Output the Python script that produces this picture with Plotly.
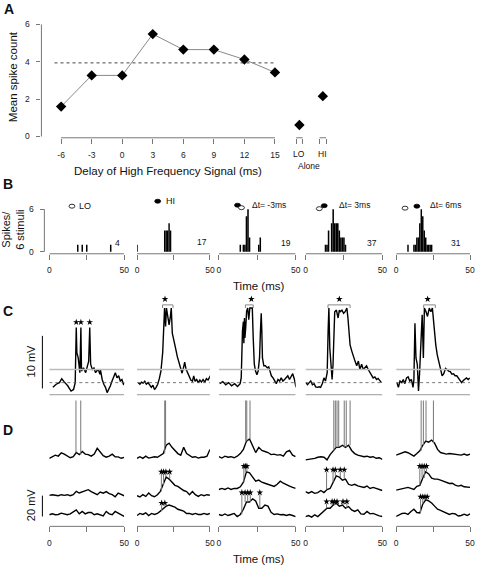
import plotly.graph_objects as go

W, H = 480, 572
FONT = "Arial, Liberation Sans, sans-serif"
AXC = "#777"

def fx(p):
    return p / W

def fy(p):
    return 1 - p / H

# ---------------- Panel A data ----------------
delays = [-6, -3, 0, 3, 6, 9, 12, 15]
mean_spikes = [1.6, 3.27, 3.27, 5.48, 4.65, 4.65, 4.12, 3.43]
alone_labels = ["LO", "HI"]
alone_x = [17.4, 19.7]
alone_spikes = [0.62, 2.16]
sum_level = 3.94
a_yticks = [0, 2, 4, 6]

# ---------------- Panel B data ----------------
hist_titles = ["LO", "HI", "\u0394t= -3ms", "\u0394t= 3ms", "\u0394t= 6ms"]
hist_totals = [4, 17, 19, 37, 31]
hist_bins = [
    [19, 22, 25, 41],
    [0, 19, 20, 21, 22, 23],
    [14, 16, 17, 18, 19, 20, 26, 27],
    [13, 14, 15, 17, 18, 19, 20, 21, 22, 23, 24, 25, 26],
    [8, 12, 13, 14, 15, 16, 17, 18, 19, 20, 21, 22, 23, 24],
]
hist_counts = [
    [1, 1, 1, 1],
    [1, 3, 3, 3, 4, 3],
    [1, 1, 1, 5, 6, 2, 1, 2],
    [1, 1, 3, 4, 6, 4, 4, 4, 3, 2, 2, 2, 1],
    [1, 1, 1, 2, 2, 4, 6, 5, 3, 2, 1, 1, 1, 1],
]
b_yticks = [0, 6]
time_ticks = [0, 25, 50]
time_ticktext = ["0", "", "50"]

# ---------------- Panel C data (ms, mV re. rest) ----------------
c_t = [
    [2.4, 4.6, 6.8, 8.3, 10.1, 12.3, 14.5, 16.2, 17.3, 17.8, 18.0, 18.4, 19.3, 20.4, 21.1, 21.5, 22.8, 24.3, 25.4, 26.3,
     27.0, 27.6, 28.7, 29.8, 30.9, 32.0, 33.1, 33.8, 34.2, 35.3, 36.4, 37.5, 38.6, 39.7, 40.8, 41.9, 43.0, 44.1, 45.2,
     46.3, 47.4, 48.5, 49.5, 50.7],
    [0.9, 2.0, 3.1, 4.2, 5.3, 6.4, 7.6, 8.7, 9.8, 10.9, 12.0, 13.1, 14.2, 15.3, 16.4, 17.6, 18.2, 18.9, 19.6, 20.2,
     21.1, 22.0, 22.9, 23.5, 24.2, 25.3, 26.4, 27.6, 28.7, 29.8, 30.9, 32.0, 32.7, 33.6, 34.7, 35.8, 36.9, 38.0, 38.9,
     39.8, 40.9, 42.0, 43.1, 44.2, 45.3, 46.4, 47.6, 48.7, 49.8, 50.9],
    [0.6, 2.6, 4.5, 6.4, 8.3, 10.3, 12.2, 12.8, 13.9, 14.6, 14.9, 15.4, 16.0, 16.3, 16.7, 17.0, 17.5, 18.1, 18.8, 19.5,
     20.2, 21.0, 21.8, 22.4, 23.1, 23.9, 24.8, 25.6, 26.5, 27.1, 27.6, 28.0, 28.4, 29.3, 30.3, 31.6, 32.5, 33.3, 34.2,
     35.3, 36.3, 37.4, 38.5, 39.6, 40.6, 41.7, 42.8, 43.8, 44.9, 46.0, 47.0, 48.1, 49.2, 50.2],
    [0.2, 1.3, 2.4, 3.4, 4.5, 5.6, 6.6, 7.7, 8.8, 9.8, 10.9, 12.0, 13.0, 14.1, 14.7, 15.2, 15.8, 16.7, 17.3, 17.9,
     18.4, 19.0, 20.1, 21.2, 22.0, 22.6, 23.7, 24.8, 25.8, 26.9, 27.6, 28.2, 29.0, 30.1, 31.2, 32.2, 33.3, 34.4, 35.4,
     36.5, 37.6, 38.7, 39.7, 40.8, 41.9, 42.9, 44.0, 45.1, 46.2, 47.2, 48.3, 49.4],
    [0.5, 1.5, 2.6, 3.8, 4.8, 5.9, 7.0, 8.1, 9.2, 10.3, 11.4, 12.0, 12.7, 13.4, 14.3, 15.1, 15.8, 16.4, 16.9, 17.6,
     18.4, 19.1, 20.2, 21.2, 22.4, 23.5, 24.5, 25.7, 26.8, 27.8, 28.9, 30.1, 31.1, 32.2, 33.4, 34.4, 35.5, 36.6, 37.7,
     38.8, 39.9, 41.0, 42.1, 43.2, 44.3, 45.4, 46.5, 47.6, 48.7, 49.8],
]
c_v = [
    [-0.9, -0.3, 0.0, 0.75, 0.1, -0.6, -1.6, -1.3, 0.0, 5.0, 10.5, 5.7, 4.7, 1.9, 10.5, 2.2, 2.8, 1.9, 3.1, 4.1,
     10.5, 3.5, 2.5, 2.8, 1.9, 2.4, 2.2, 1.6, 2.4, 0.6, -0.3, -0.9, -1.9, -1.3, -0.6, 0.3, 1.3, 1.9, 0.9, 1.3,
     0.3, 0.6, -0.3, 0.0],
    [0.0, -0.3, 0.1, -0.1, 0.25, -0.3, 0.0, -0.6, -0.9, -0.5, -1.3, -0.9, -0.3, 0.75, 2.2, 5.7, 9.4, 14.2, 10.7, 14.2,
     12.6, 11.0, 12.6, 14.2, 9.4, 8.2, 6.6, 5.0, 3.8, 2.6, 1.8, 3.0, 3.9, 2.6, 1.8, 0.94, 0.5, 0.3, 1.3, 0.25,
     0.6, 0.0, 0.5, 0.1, 0.6, 0.1, 0.75, 0.5, 0.94, 1.6],
    [-0.2, 0.2, -0.4, 0.0, -0.6, -0.2, -0.75, -0.6, -0.2, 0.94, 4.7, 9.8, 11.6, 7.5, 12.3, 8.5, 10.4, 13.6, 14.2, 12.0,
     14.2, 14.2, 14.2, 8.5, 3.5, 2.2, 1.5, 2.2, 4.7, 9.8, 13.2, 9.8, 4.7, 3.2, 3.2, 2.8, 3.0, 2.2, 1.3, 0.9,
     0.4, -0.2, 0.6, 0.3, 0.9, 0.3, 0.6, 0.9, 1.3, 0.6, 1.1, 1.7, 0.6, -0.9],
    [0.0, -0.4, 0.0, 0.3, -0.4, -0.2, -0.8, -0.9, -0.8, -0.9, -0.2, 0.9, 0.3, 1.9, 9.8, 14.2, 6.6, 1.6, 0.6, 3.5,
     9.8, 13.5, 13.8, 12.3, 13.8, 13.5, 13.8, 13.2, 13.5, 14.2, 12.3, 9.8, 7.2, 6.0, 4.7, 4.1, 3.2, 4.1, 2.5, 3.5,
     2.5, 2.8, 3.2, 2.5, 1.9, 1.5, 0.9, 1.1, 0.6, 0.8, 0.3, 0.0],
    [0.0, -0.9, 0.3, 0.0, 0.6, -0.2, 0.9, 1.1, 0.3, 0.6, -0.9, 0.6, 11.3, 4.7, 3.5, -1.6, 1.6, 6.0, 9.8, 12.9,
     4.7, 14.2, 13.5, 12.6, 14.2, 13.5, 14.2, 9.8, 7.2, 5.3, 3.8, 2.5, 1.3, 1.7, 2.7, 2.5, 2.2, 2.1, 1.6, 1.7,
     1.3, 1.3, 0.9, 0.3, 0.0, 0.4, 0.6, 0.9, 0.6, 0.9],
]
c_star_t = [[18.0, 21.1, 27.0], [19.2], [21.2], [22.0], [21.3]]
c_star_v = [11.5, 15.9, 15.9, 15.9, 15.9]
c_bracket = [None, (17.5, 24.7), (17.3, 22.4), (14.6, 29.0), (18.6, 26.5)]
c_bracket_v = 14.8
c_upper, c_rest, c_lower = 2.5, 0.0, -2.3
c_scale_mv = 10

# ---------------- Panel D data (ms, mV re. rest of each trial) ----------------
d_t = list(range(0, 51, 2))
d_offsets = [54.5, 19.0, 0.0]  # top, middle, bottom trial
d_v = [
    [[-0.6, 1, 2.5, 1.6, 4.8, 3.5, 1.6, 0, 1, 5, 3, 6, 3.5, 3, 1.6, 3.5, 9, 5, 2, 0.5, 1.6, 3.5, 1, 0.8, -0.5, 0.3],
     [-0.6, 0, -0.5, -1, 0, -0.6, 0, -1, 0, 3.2, 1.6, 2.5, 3.2, 4.8, 3, 1.6, 0, 2.5, 1.5, 3, 1, 0, -2, 1.5, 0, -1],
     [-0.3, 0.6, -0.3, 0, 1.3, 0.6, -0.3, 0.6, 2.9, 4.4, 0.6, 2.9, 0.6, 1.9, 1.9, -0.3, 0.6, -0.3, -1.3, 2.9, 0.6, -0.3, 2.9, 1.3, -0.3, -1.9]],
    [[-0.6, 1, -0.6, 1.5, -0.3, 0.5, 1, 0.5, 2.5, 4, 12, 14, 10, 7, 4, 2.5, 10, 4, 2.5, 0.5, 1, -0.3, 0.5, 0.5, 1.5, 8],
     [-1, -2.2, 0, -1.6, 1.6, -1, -2, 0, 3.2, 9.5, 17, 15, 12, 9, 8, 6, 4, 3, 0, 3, 0, -1.6, 0, -1, 0, -0.6],
     [-1, 1, 0, 1.6, -1, 1, 0, 1, 3.2, 6, 8, 9, 8, 7, 5, 4, 3.2, 1, 1, 0, 1, 0, 0, 1, 0, 1]],
    [[1, -0.3, 1.5, 0.5, 1, 0, 1.5, 4, 8, 16, 18, 12, 5, 10, 7, 6, 5, 3, 3.5, 2.5, 3, 1.5, 5.7, 7, 2.5, 1],
     [5, 6, 5, 6.5, 5, 6, 6, 7.6, 12, 22, 21, 17, 13, 14, 12, 11, 10, 9.2, 8, 10, 13, 11, 10, 8.3, 7, 6],
     [0, -1, 0.5, -1, 0, 1, -2, 0, 5, 12, 12, 15, 13, 6, 6, 9, 8, 2, 0, 0.6, -0.3, 0, -1, 0, -1, -2]],
    [[-2, -1.6, -1, -0.6, 0.5, 1, 0.5, -2, 3, 7, 10, 10, 12, 10, 12, 7, 4, 2.5, 1.5, 1, 1.5, 0.5, 1, -0.5, 0, -1.6],
     [3, 1.5, 3, 1.3, 2, 4, 2, 5, 6, 12, 18, 17, 14, 15, 10, 9, 10, 8.5, 8, 7, 8.3, 6, 7, 6, 5, 4],
     [-2, -1, -2.5, -0.3, -2, 0.6, 2.9, 6, 6, 9, 10.8, 8, 9, 6, 7.6, 4.4, 3, 4.4, 0.6, 0.3, 2.9, 0.6, 1, -0.3, -1.3, -1.9]],
    [[2.5, 3.5, 4, 5.7, 4.8, 3, 1.6, 4, 6.7, 12, 16, 15, 17, 14, 8, 5, 4.5, 3.5, 4, 3.5, 3, 2.5, 2.5, 3.5, 2.5, 3.5],
     [4.4, 5, 5.5, 6, 7, 6, 5, 8, 9, 16, 22, 20, 16, 15, 15, 14, 13, 11.5, 10.8, 11, 9.2, 8.3, 9, 7.6, 7.6, 7],
     [-1.9, -0.3, 1, 1.3, 0, 2.9, 5, 1.9, 1.5, 10, 14, 13, 11, 8, 5, 4, 2.9, 1.3, 0, 1, 0.5, -1.5, -1, 0.3, -1, 0.6]],
]
d_top_spikes = [[17.8, 21.0], [19.0, 19.6], [17.5, 18.2, 20.3],
                [18.4, 19.4, 20.5, 21.6, 25.2, 26.5, 29.0], [16.9, 18.4, 20.2, 25.2]]
d_top_peak = 55
d_mid_stars = [[], [16.7, 18.2, 19.8, 22.4], [16.3, 17.3, 18.3], [13.7, 17.9, 19.4, 22.6, 25.2], [16.0, 17.5, 19.0, 20.5]]
d_mid_star_v = [0, 22, 27.4, 24, 27.4]
d_bot_stars = [[], [16.9, 19.1], [15.0, 17.1, 18.8, 20.5, 26.7], [13.7, 17.3, 18.8, 20.5, 24.4, 26.9], [16.5, 18.0, 19.5, 21.0]]
d_bot_star_v = [0, 11, 21, 12.4, 17]
d_scale_mv = 20

# ---------------- layout geometry (pixels) ----------------
col_px = [(48, 124), (137, 211), (220, 298), (308, 386), (400, 475)]
total_px = [(117, 244), (203, 243), (288, 244), (375, 244), (461, 244)]

fig = go.Figure()
layout = dict(width=W, height=H, margin=dict(l=0, r=0, t=0, b=0), paper_bgcolor="white",
              plot_bgcolor="rgba(0,0,0,0)", showlegend=False, hovermode=False, dragmode=False,
              font=dict(family=FONT, size=8, color="#222"))
shapes = []
annotations = []


def ann(text, x, y, size=8, bold=False, angle=0, xanchor="center", yanchor="middle", xref="paper", yref="paper"):
    if bold:
        text = "<b>" + text + "</b>"
    annotations.append(dict(text=text, x=x, y=y, xref=xref, yref=yref, showarrow=False,
                            font=dict(size=size, family=FONT, color="#111"), textangle=angle,
                            xanchor=xanchor, yanchor=yanchor))


def axkey(kind, i):
    return kind + "axis" + ("" if i == 1 else str(i))


def ref(kind, i):
    return kind + ("" if i == 1 else str(i))


hidden = dict(visible=False, showgrid=False, zeroline=False)

# ---------------- Panel A ----------------
a_k = 217 / 21.0
lo_hi_ticks = []
for xv in alone_x:
    lo_hi_ticks += [xv - 0.32, xv + 0.32]
layout["xaxis"] = dict(domain=[fx(40), fx(340)], range=[-6 - 20 / a_k, -6 + 280 / a_k], anchor="y",
                       showgrid=False, zeroline=False, showline=False, ticks="outside", ticklen=5,
                       tickcolor=AXC, tickvals=delays + lo_hi_ticks,
                       ticktext=[str(d) for d in delays] + [""] * len(lo_hi_ticks),
                       tickfont=dict(size=8.5, color="#222"), ticklabelstandoff=4)
layout["yaxis"] = dict(domain=[fy(138), fy(20)], range=[-1.3 / 18.85, 116.7 / 18.85], anchor="x",
                       showgrid=False, zeroline=False, showline=False, ticks="outside", ticklen=4,
                       tickcolor=AXC, tickvals=a_yticks, tickfont=dict(size=8.5, color="#222"),
                       ticklabelstandoff=5)
shapes.append(dict(type="line", xref="x", yref="y domain", x0=delays[0], x1=delays[-1], y0=0, y1=0,
                   line=dict(color=AXC, width=1)))
for j in range(len(alone_x)):
    shapes.append(dict(type="line", xref="x", yref="y domain", x0=lo_hi_ticks[2 * j], x1=lo_hi_ticks[2 * j + 1],
                       y0=0, y1=0, line=dict(color=AXC, width=1)))
    ann(alone_labels[j], alone_x[j], fy(154), size=8.5, xref="x")
shapes.append(dict(type="line", xref="x domain", yref="y", x0=0, x1=0, y0=a_yticks[0], y1=a_yticks[-1],
                   line=dict(color=AXC, width=1)))
fig.add_trace(go.Scatter(x=[delays[0] - 0.65, delays[-1]], y=[sum_level, sum_level], mode="lines",
                         line=dict(color="#444", width=1, dash="dot"), xaxis="x", yaxis="y"))
fig.add_trace(go.Scatter(x=delays, y=mean_spikes, mode="lines+markers", line=dict(color="#888", width=1),
                         marker=dict(symbol="diamond", size=8, color="black"), xaxis="x", yaxis="y"))
fig.add_trace(go.Scatter(x=alone_x, y=alone_spikes, mode="markers",
                         marker=dict(symbol="diamond", size=8, color="black"), xaxis="x", yaxis="y"))
ann("Mean spike count", fx(12), fy(76), size=11.5, angle=-90)
ann("Delay of High Frequency Signal (ms)", fx(168), fy(172), size=11.5)
ann("Alone", fx(312), fy(166), size=8.5)

# ---------------- Panel B ----------------
b_k = 43 / 6.0
for c in range(5):
    i = 2 + c
    x0, x1 = col_px[c]
    layout[axkey("x", i)] = dict(domain=[fx(x0), fx(x1)], range=[0, 50], anchor=ref("y", i),
                                 showgrid=False, zeroline=False, showline=False, ticks="outside",
                                 ticklen=5, tickcolor=AXC, tickvals=time_ticks, ticktext=time_ticktext,
                                 tickfont=dict(size=8.5, color="#222"), ticklabelstandoff=3)
    ydict = dict(domain=[fy(255), fy(205)], range=[-2 / b_k, 48 / b_k], showgrid=False, zeroline=False)
    if c == 0:
        ydict.update(anchor="free", position=fx(43), showline=False, ticks="outside", ticklen=4,
                     tickcolor=AXC, tickvals=b_yticks, tickfont=dict(size=8.5, color="#222"),
                     ticklabelstandoff=5)
        shapes.append(dict(type="line", xref="paper", yref=ref("y", i), x0=fx(43), x1=fx(43),
                           y0=b_yticks[0], y1=b_yticks[-1], line=dict(color=AXC, width=1)))
    else:
        ydict.update(anchor=ref("x", i), visible=False)
    layout[axkey("y", i)] = ydict
    shapes.append(dict(type="line", xref=ref("x", i), yref=ref("y", i) + " domain", x0=time_ticks[0],
                       x1=time_ticks[-1], y0=0, y1=0, line=dict(color=AXC, width=1)))
    fig.add_trace(go.Bar(x=hist_bins[c], y=hist_counts[c], width=1.0, marker=dict(color="black", line=dict(width=0)),
                         xaxis=ref("x", i), yaxis=ref("y", i)))
    ann(str(hist_totals[c]), fx(total_px[c][0]), fy(total_px[c][1]), size=8.5)

# legend glyphs for panel B (open = LO, filled = HI)
def ellipse(cx, cy, filled):
    shapes.append(dict(type="circle", xref="paper", yref="paper", x0=fx(cx - 3), x1=fx(cx + 3),
                       y0=fy(cy + 2), y1=fy(cy - 2),
                       line=dict(color="black", width=0.8), fillcolor="black" if filled else "white"))

ellipse(71, 207, False)
ann(hist_titles[0], fx(76), fy(207), size=9, xanchor="left")
ellipse(158, 202, True)
ann(hist_titles[1], fx(164), fy(202), size=9, xanchor="left")
ellipse(239, 206, True)
ellipse(243, 208.5, False)
ann(hist_titles[2], fx(252), fy(206), size=8.5, xanchor="left")
ellipse(322, 209.5, False)
ellipse(327, 206.5, True)
ann(hist_titles[3], fx(340), fy(206), size=8.5, xanchor="left")
ellipse(409, 209, False)
ellipse(421, 207, True)
ann(hist_titles[4], fx(432), fy(206), size=8.5, xanchor="left")
ann("Spikes/<br>6 stimuli", fx(11), fy(231), size=11, angle=-90)
ann("Time (ms)", fx(260), fy(288), size=11.5)

# ---------------- Panel C ----------------
c_k = 5.3
for c in range(5):
    xi = 2 + c
    yi = 7 + c
    layout[axkey("y", yi)] = dict(domain=[fy(400), fy(296)], range=[-15 / c_k, 89 / c_k],
                                  anchor=ref("x", xi), **hidden)
    xr, yr = ref("x", xi), ref("y", yi)
    shapes.append(dict(type="line", xref=xr, yref=yr, x0=0, x1=50, y0=c_upper, y1=c_upper,
                       line=dict(color="#bbb", width=1.3)))
    shapes.append(dict(type="line", xref=xr, yref=yr, x0=0, x1=50, y0=c_lower, y1=c_lower,
                       line=dict(color="#999", width=1)))
    shapes.append(dict(type="line", xref=xr, yref=yr, x0=0, x1=50, y0=c_rest, y1=c_rest,
                       line=dict(color="#555", width=0.8, dash="dot")))
    fig.add_trace(go.Scatter(x=c_t[c], y=c_v[c], mode="lines", line=dict(color="black", width=1.4),
                             xaxis=xr, yaxis=yr))
    fig.add_trace(go.Scatter(x=c_star_t[c], y=[c_star_v[c]] * len(c_star_t[c]), mode="markers",
                             marker=dict(symbol="star", size=5, color="black"), xaxis=xr, yaxis=yr,
                             cliponaxis=False))
    if c_bracket[c] is not None:
        b0, b1 = c_bracket[c]
        shapes.append(dict(type="path", xref=xr, yref=yr,
                           path=f"M {b0},{c_bracket_v - 0.6} L {b0},{c_bracket_v} L {b1},{c_bracket_v} L {b1},{c_bracket_v - 0.6}",
                           line=dict(color="#888", width=1)))
    if c == 0:
        shapes.append(dict(type="line", xref="paper", yref=yr, x0=fx(41), x1=fx(41), y0=-1.1,
                           y1=-1.1 + c_scale_mv, line=dict(color="black", width=1)))
ann("10 mV", fx(29), fy(364), size=11, angle=-90)

# ---------------- Panel D ----------------
d_k = 1.05
for c in range(5):
    i = 12 + c
    x0, x1 = col_px[c]
    layout[axkey("x", i)] = dict(domain=[fx(x0), fx(x1)], range=[0, 50], anchor=ref("y", i),
                                 showgrid=False, zeroline=False, showline=False, ticks="outside",
                                 ticklen=5, tickcolor=AXC, tickvals=time_ticks, ticktext=time_ticktext,
                                 tickfont=dict(size=8.5, color="#222"), ticklabelstandoff=3)
    layout[axkey("y", i)] = dict(domain=[fy(530), fy(398)], range=[-12 / d_k, 120 / d_k],
                                 anchor=ref("x", i), **hidden)
    xr, yr = ref("x", i), ref("y", i)
    shapes.append(dict(type="line", xref=xr, yref=yr + " domain", x0=time_ticks[0], x1=time_ticks[-1],
                       y0=0, y1=0, line=dict(color=AXC, width=1)))
    star_sets = [[], d_mid_stars[c], d_bot_stars[c]]
    star_lv = [None, d_mid_star_v[c], d_bot_star_v[c]]
    for r in range(3):
        off = d_offsets[r]
        vals = d_v[c][r]
        fig.add_trace(go.Scatter(x=d_t, y=[v + off for v in vals], mode="lines",
                                 line=dict(color="black", width=1.4), xaxis=xr, yaxis=yr))
        if r == 0:
            sp_t = d_top_spikes[c]
            peaks = [d_top_peak] * len(sp_t)
        else:
            sp_t = star_sets[r]
            peaks = [star_lv[r] - 2] * len(sp_t)
        sx, sy = [], []
        for ts, pk in zip(sp_t, peaks):
            base = vals[min(range(len(d_t)), key=lambda j: abs(d_t[j] - ts))]
            sx += [ts, ts, None]
            sy += [base + off, pk + off, None]
        if sx:
            fig.add_trace(go.Scatter(x=sx, y=sy, mode="lines", line=dict(color="#777", width=1),
                                     xaxis=xr, yaxis=yr))
        if r > 0 and sp_t:
            fig.add_trace(go.Scatter(x=sp_t, y=[star_lv[r] + off] * len(sp_t), mode="markers",
                                     marker=dict(symbol="star", size=5, color="black"),
                                     xaxis=xr, yaxis=yr, cliponaxis=False))
    if c == 0:
        shapes.append(dict(type="line", xref="paper", yref=yr, x0=fx(41), x1=fx(41), y0=-1.9,
                           y1=-1.9 + d_scale_mv, line=dict(color="black", width=1)))
ann("20 mV", fx(29), fy(509), size=11, angle=-90)
ann("Time (ms)", fx(260), fy(563), size=11.5)

# panel letters
ann("A", fx(7), fy(8), size=14, bold=True)
ann("B", fx(6), fy(185), size=14, bold=True)
ann("C", fx(6), fy(313), size=14, bold=True)
ann("D", fx(6), fy(433), size=14, bold=True)

layout["shapes"] = shapes
layout["annotations"] = annotations
fig.update_layout(**layout)
fig.update_traces(hoverinfo="skip")
fig.write_html("out.html", config={"displayModeBar": False, "staticPlot": True},
               post_script="document.body.style.margin='0px';document.body.style.padding='0px';")
